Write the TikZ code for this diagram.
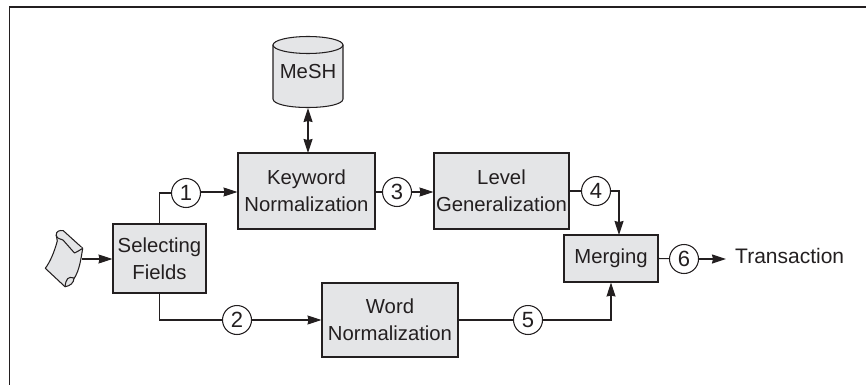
\documentclass[tikz,border=0pt]{standalone}
\usepackage{fontspec}
\setmainfont{Liberation Sans}
\usetikzlibrary{arrows.meta}
\definecolor{boxfill}{RGB}{228,229,231}
\definecolor{ink}{RGB}{35,31,32}
\tikzset{
 x=1pt,y=-1pt,
 lbl/.style={font=\fontsize{20.3}{27}\selectfont,text=ink,align=center,inner sep=0pt},
 proc/.style={lbl,draw=ink,fill=boxfill,line width=1.05pt},
 num/.style={draw=ink,fill=white,circle,line width=1.05pt,minimum size=29pt,inner sep=0pt,font=\fontsize{22}{22}\selectfont,text=ink},
 conn/.style={draw=ink,line width=1.05pt},
 arr/.style={conn,-{Stealth[length=14pt,width=9pt,inset=1pt]}},
 darr/.style={conn,{Stealth[length=14pt,width=9pt,inset=1pt]}-{Stealth[length=14pt,width=9pt,inset=1pt]}},
 shapeline/.style={draw=ink,line width=1.05pt,line join=round},
}
\begin{document}
\begin{tikzpicture}
\useasboundingbox (0,0) rectangle (866,385);
\draw[ink,line width=1.3pt] (866,7) -- (9.5,7) -- (9.5,385);
% cylinder
\path[shapeline,fill=boxfill] (273,45) -- (273,99) .. controls (273,104) and (288,107.5) .. (308,107.5) .. controls (328,107.5) and (343,104) .. (343,99) -- (343,45) -- cycle;
\path[shapeline,fill=boxfill] (308,45) ellipse[x radius=35,y radius=8.5];
\node[lbl] (mesh) at (308,72) {MeSH};
\coordinate (meshb) at (308,108);
% boxes
\node[proc,minimum width=137pt,minimum height=76pt] (kw) at (306.5,191) {Keyword\\Normalization};
\node[proc,minimum width=135pt,minimum height=76pt] (lg) at (501.5,191) {Level\\Generalization};
\node[proc,minimum width=93pt,minimum height=69pt] (sf) at (159.5,258.5) {Selecting\\Fields};
\node[proc,minimum width=136pt,minimum height=74pt] (wn) at (390,320) {Word\\Normalization};
\node[proc,minimum width=94pt,minimum height=47pt] (mg) at (611,258.5) {Merging};
\coordinate (kwt) at (308,153);
\coordinate (mgt) at (619,235);
% circles
\node[num] (n1) at (186,193) {1};
\node[num] (n2) at (237,320) {2};
\node[num] (n3) at (397,192) {3};
\node[num] (n4) at (596,191) {4};
\node[num] (n5) at (528,320) {5};
\node[num] (n6) at (684,259) {6};
\node[lbl,anchor=west,font=\fontsize{21}{27}\selectfont] (tr) at (735,256) {Transaction};
% source sheet
\path[shapeline,fill=boxfill] (57.3,241) .. controls (54,253) and (50,262) .. (45.3,268.3) -- (65,286.7) .. controls (78,280) and (80,265) .. (82.7,248.3) -- (63.3,230.7) .. controls (60,230) and (56,231) .. (56.2,235) -- cycle;
\path[shapeline,fill=boxfill] (56.2,235) .. controls (57,240) and (61,238) .. (63,240) -- (74.5,253) .. controls (77,252) and (80,250) .. (82.7,248.3);
\path[shapeline,fill=boxfill] (65,286.7) .. controls (66,279) and (68,276) .. (74,278) .. controls (74,283) and (70,286) .. (65,286.7) -- cycle;
\coordinate (doc) at (82,259);
% connectors
\draw[arr] (doc) -- (sf.west |- doc);
\draw[conn] (sf.north) |- (n1.west);
\draw[arr] (n1.east) ++(0,-1) -- (kw.west |- 0,192);
\draw[darr] (meshb) -- (kwt);
\draw[conn] (kw.east |- n3) -- (n3);
\draw[arr] (n3) -- (n3 -| lg.west);
\draw[conn] (lg.east |- n4) -- (n4);
\draw[arr] (n4) -| (mgt);
\draw[conn] (sf.south) |- (n2);
\draw[arr] (n2) -- (wn.west);
\draw[conn] (wn.east) -- (n5);
\draw[arr] (n5) -| (mg.south);
\draw[conn] (mg.east) -- (n6);
\draw[arr] (n6) -- (726,259);
\end{tikzpicture}
\end{document}
